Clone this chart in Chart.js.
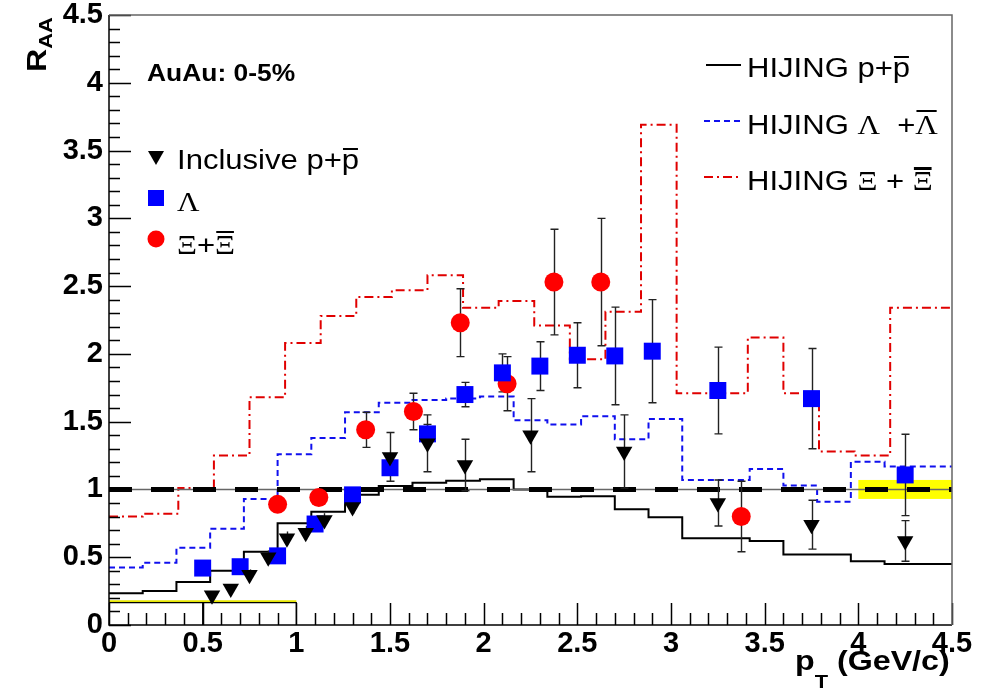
<!DOCTYPE html>
<html>
<head>
<meta charset="utf-8">
<script src="https://cdn.jsdelivr.net/npm/chart.js@4.4.1/dist/chart.umd.min.js"></script>
<style>
  html, body { margin: 0; padding: 0; background: #fff; }
  #wrap { width: 990px; height: 698px; }
</style>
</head>
<body>
<div id="wrap"><canvas id="raa" width="990" height="698"></canvas></div>
<script>
// HIJING curves: bin edges + bin contents
const hijingEdges = [0, 0.18, 0.36, 0.54, 0.72, 0.9, 1.08, 1.26, 1.44, 1.62, 1.8, 1.98, 2.16, 2.34, 2.52, 2.7, 2.88, 3.06, 3.24, 3.42, 3.6, 3.78, 3.96, 4.14, 4.32, 4.5];
const hijingPP = [0.234, 0.25, 0.317, 0.40, 0.54, 0.75, 0.836, 0.96, 1.026, 1.05, 1.065, 1.075, 1.0, 0.947, 0.95, 0.854, 0.795, 0.64, 0.64, 0.62, 0.52, 0.52, 0.47, 0.45, 0.45];
const hijingLambda = [0.425, 0.46, 0.57, 0.71, 0.93, 1.26, 1.38, 1.57, 1.64, 1.66, 1.67, 1.685, 1.51, 1.48, 1.54, 1.37, 1.52, 1.07, 1.07, 1.15, 1.03, 0.91, 1.205, 1.17, 1.17];
const xiEdges = [0, 0.18, 0.37, 0.56, 0.75, 0.94, 1.13, 1.32, 1.51, 1.70, 1.89, 2.08, 2.27, 2.46, 2.65, 2.84, 3.03, 3.22, 3.41, 3.60, 3.79, 3.98, 4.17, 4.5];
const hijingXi = [0.80, 0.82, 1.01, 1.25, 1.68, 2.08, 2.28, 2.42, 2.47, 2.58, 2.34, 2.39, 2.21, 1.96, 2.31, 3.69, 1.71, 1.71, 2.12, 1.71, 1.28, 1.25, 2.34];

// measured R_AA points
const ppX = [0.55, 0.65, 0.75, 0.85, 0.95, 1.05, 1.15, 1.30, 1.50, 1.70, 1.90, 2.25, 2.75, 3.25, 3.75, 4.25];
const ppY = [0.22, 0.27, 0.37, 0.50, 0.64, 0.68, 0.775, 0.87, 1.24, 1.34, 1.18, 1.40, 1.28, 0.90, 0.74, 0.62];
const ppErr = [0.02, 0.03, 0.04, 0.05, 0.05, 0.05, 0.05, 0.05, 0.18, 0.21, 0.19, 0.27, 0.27, 0.17, 0.18, 0.15];

const lamX = [0.50, 0.70, 0.90, 1.10, 1.30, 1.50, 1.70, 1.90, 2.10, 2.30, 2.50, 2.70, 2.90, 3.25, 3.75, 4.25];
const lamY = [0.42, 0.43, 0.51, 0.745, 0.96, 1.16, 1.41, 1.70, 1.86, 1.91, 1.99, 1.985, 2.02, 1.73, 1.67, 1.107];
const lamErr = [0.02, 0.02, 0.03, 0.04, 0.05, 0.06, 0.07, 0.09, 0.14, 0.18, 0.24, 0.36, 0.38, 0.32, 0.37, 0.30];

const xiX = [0.90, 1.12, 1.37, 1.625, 1.875, 2.125, 2.375, 2.625, 3.375];
const xiY = [0.89, 0.94, 1.44, 1.575, 2.23, 1.78, 2.53, 2.53, 0.80];
const xiErr = [0.03, 0.04, 0.13, 0.135, 0.25, 0.20, 0.39, 0.47, 0.26];

// normalisation uncertainty band and the low reference box
const bandX = [4.0, 4.5];
const bandY = [0.93, 1.07];
const lowBoxX = [0, 0.5, 1.0];
const lowBoxY = 0.165;

const SANS = "'Liberation Sans', Arial, sans-serif";
const SERIF = "'Liberation Serif', 'Times New Roman', serif";
const SX = 1.15; // text is drawn a bit wide

function toPoints(xs, ys) {
    return xs.map((x, i) => ({ x: x, y: ys[i] }));
}

function histPoints(edges, vals) {
    const pts = vals.map((v, i) => ({ x: edges[i], y: v }));
    pts.push({ x: edges[edges.length - 1], y: vals[vals.length - 1] });
    return pts;
}

function lowBoxPoints() {
    return [
        { x: lowBoxX[0], y: lowBoxY }, { x: lowBoxX[2], y: lowBoxY }, { x: lowBoxX[2], y: 0 },
        { x: 0.75, y: null },
        { x: lowBoxX[1], y: lowBoxY }, { x: lowBoxX[1], y: 0 }
    ];
}

// text with optional overline, stretched horizontally
function drawRich(ctx, x, y, parts, sx) {
    ctx.save();
    ctx.translate(x, y);
    ctx.scale(sx, 1);
    let cx = 0;
    for (const p of parts) {
        ctx.font = p.font;
        ctx.fillText(p.t, cx, p.dy || 0);
        const w = ctx.measureText(p.t).width;
        if (p.bar) {
            ctx.fillRect(cx + 1, -p.bar, w - 2, p.barW || 2);
        }
        cx += w;
    }
    ctx.restore();
}

const bandPlugin = {
    id: 'band',
    beforeDatasetsDraw(chart) {
        const { ctx, scales: { x, y } } = chart;
        ctx.save();
        ctx.fillStyle = '#ffff00';
        const x0 = x.getPixelForValue(bandX[0]), x1 = x.getPixelForValue(bandX[1]);
        const y0 = y.getPixelForValue(bandY[1]), y1 = y.getPixelForValue(bandY[0]);
        ctx.fillRect(x0, y0, x1 - x0, y1 - y0);
        ctx.restore();
    }
};

const errorBarPlugin = {
    id: 'errorBars',
    beforeDatasetDraw(chart, args) {
        if (args.index !== 2) return;
        const { ctx, scales: { x, y } } = chart;
        ctx.save();
        ctx.strokeStyle = '#222';
        ctx.lineWidth = 1.4;
        const sets = [[ppX, ppY, ppErr], [lamX, lamY, lamErr], [xiX, xiY, xiErr]];
        for (const [xs, ys, es] of sets) {
            xs.forEach((xv, i) => {
                const px = Math.round(x.getPixelForValue(xv)) + 0.5;
                const top = y.getPixelForValue(ys[i] + es[i]);
                const bot = y.getPixelForValue(ys[i] - es[i]);
                ctx.beginPath();
                ctx.moveTo(px, top);
                ctx.lineTo(px, bot);
                if (es[i] > 0.06) {
                    ctx.moveTo(px - 4, top);
                    ctx.lineTo(px + 4, top);
                    ctx.moveTo(px - 4, bot);
                    ctx.lineTo(px + 4, bot);
                }
                ctx.stroke();
            });
        }
        ctx.restore();
    }
};

// ROOT style frame with ticks pointing inward
const framePlugin = {
    id: 'frame',
    afterDatasetsDraw(chart) {
        const { ctx, chartArea: a, scales: { x, y } } = chart;
        ctx.save();
        ctx.lineWidth = 1.5;
        ctx.strokeStyle = '#000';
        ctx.beginPath();
        for (let k = 0; k <= 45; k++) {
            const px = Math.round(x.getPixelForValue(k / 10)) + 0.5;
            const len = k % 5 === 0 ? 22 : 12;
            ctx.moveTo(px, a.bottom);
            ctx.lineTo(px, a.bottom - len);
            const py = Math.round(y.getPixelForValue(k / 10)) + 0.5;
            const ylen = k % 5 === 0 ? 22 : 11;
            ctx.moveTo(a.left, py);
            ctx.lineTo(a.left + ylen, py);
        }
        ctx.stroke();
        ctx.beginPath();
        ctx.moveTo(a.left, a.top);
        ctx.lineTo(a.left, a.bottom);
        ctx.lineTo(a.right, a.bottom);
        ctx.stroke();
        ctx.strokeStyle = '#666';
        ctx.beginPath();
        ctx.moveTo(a.left, a.top);
        ctx.lineTo(a.right, a.top);
        ctx.lineTo(a.right, a.bottom);
        ctx.stroke();
        ctx.restore();
    }
};

const textPlugin = {
    id: 'texts',
    afterDraw(chart) {
        const ctx = chart.ctx;
        ctx.save();
        ctx.fillStyle = '#000';
        ctx.textBaseline = 'alphabetic';

        // axis titles
        ctx.save();
        ctx.translate(46, 72);
        ctx.rotate(-Math.PI / 2);
        drawRich(ctx, 0, 0, [
            { t: 'R', font: 'bold 28px ' + SANS },
            { t: 'AA', font: 'bold 19px ' + SANS, dy: 6 }
        ], SX);
        ctx.restore();
        drawRich(ctx, 795, 670, [
            { t: 'p', font: 'bold 28px ' + SANS },
            { t: 'T', font: 'bold 19px ' + SANS, dy: 18 },
            { t: ' (GeV/c)', font: 'bold 28px ' + SANS }
        ], SX);

        drawRich(ctx, 147, 81, [{ t: 'AuAu: 0-5%', font: 'bold 24px ' + SANS }], 1.1);

        // marker legend
        const sans = '27px ' + SANS, serif = '27px ' + SERIF;
        drawRich(ctx, 177, 169, [
            { t: 'Inclusive p+', font: sans },
            { t: 'p', font: sans, bar: 21 }
        ], SX);
        drawRich(ctx, 177, 211, [{ t: 'Λ', font: serif }], SX);
        drawRich(ctx, 177, 254, [
            { t: 'Ξ', font: serif },
            { t: '+', font: sans },
            { t: 'Ξ', font: serif, bar: 23 }
        ], SX);
        ctx.fillStyle = '#000';
        ctx.beginPath();
        ctx.moveTo(148, 151); ctx.lineTo(164, 151); ctx.lineTo(156, 165);
        ctx.closePath();
        ctx.fill();
        ctx.fillStyle = '#0000ff';
        ctx.fillRect(148, 190, 16, 16);
        ctx.fillStyle = '#ff0000';
        ctx.beginPath();
        ctx.arc(156, 239, 8.5, 0, Math.PI * 2);
        ctx.fill();

        // HIJING legend
        ctx.lineWidth = 2;
        ctx.strokeStyle = '#000';
        ctx.beginPath(); ctx.moveTo(706, 65); ctx.lineTo(741, 65); ctx.stroke();
        ctx.strokeStyle = '#1010ee';
        ctx.setLineDash([6, 4]);
        ctx.beginPath(); ctx.moveTo(704, 121); ctx.lineTo(741, 121); ctx.stroke();
        ctx.strokeStyle = '#e00000';
        ctx.setLineDash([9, 4, 2, 4]);
        ctx.beginPath(); ctx.moveTo(704, 177); ctx.lineTo(741, 177); ctx.stroke();
        ctx.setLineDash([]);
        ctx.fillStyle = '#000';
        drawRich(ctx, 747, 77, [
            { t: 'HIJING p+', font: sans },
            { t: 'p', font: sans, bar: 21 }
        ], SX);
        drawRich(ctx, 747, 134, [
            { t: 'HIJING ', font: sans },
            { t: 'Λ', font: serif },
            { t: '  +', font: sans },
            { t: 'Λ', font: serif, bar: 24 }
        ], SX);
        drawRich(ctx, 747, 190, [
            { t: 'HIJING ', font: sans },
            { t: 'Ξ', font: serif },
            { t: ' + ', font: sans },
            { t: 'Ξ', font: serif, bar: 23, barW: 3 }
        ], SX);
        ctx.restore();
    }
};

const tickFont = { family: SANS, size: 29, weight: 'bold', lineHeight: 1 };
const tickLabel = (v) => String(v);

new Chart(document.getElementById('raa'), {
    type: 'line',
    data: {
        datasets: [
            {
                data: toPoints(ppX, ppY), showLine: false,
                pointStyle: 'triangle', pointRotation: 180, pointRadius: 9.5,
                pointBackgroundColor: '#000', pointBorderColor: '#000', pointBorderWidth: 0
            },
            {
                data: toPoints(lamX, lamY), showLine: false,
                pointStyle: 'rect', pointRadius: 12,
                pointBackgroundColor: '#0000ff', pointBorderColor: '#0000ff', pointBorderWidth: 0
            },
            {
                data: toPoints(xiX, xiY), showLine: false,
                pointStyle: 'circle', pointRadius: 9.5,
                pointBackgroundColor: '#ff0000', pointBorderColor: '#ff0000', pointBorderWidth: 0
            },
            {
                data: [{ x: 0, y: 1 }, { x: 4.5, y: 1 }],
                borderColor: '#000', borderWidth: 5, borderDash: [23, 19], pointRadius: 0
            },
            {
                data: [{ x: 0, y: 1 }, { x: 4.5, y: 1 }],
                borderColor: '#666', borderWidth: 1.5, pointRadius: 0
            },
            {
                data: histPoints(hijingEdges, hijingPP), stepped: 'before',
                borderColor: '#000', borderWidth: 2, pointRadius: 0
            },
            {
                data: histPoints(hijingEdges, hijingLambda), stepped: 'before',
                borderColor: '#1010ee', borderWidth: 2, borderDash: [6, 4], pointRadius: 0
            },
            {
                data: histPoints(xiEdges, hijingXi), stepped: 'before',
                borderColor: '#e00000', borderWidth: 2, borderDash: [9, 4, 2, 4], pointRadius: 0
            },
            {
                data: lowBoxPoints(), spanGaps: false,
                borderColor: '#000', borderWidth: 1.2, pointRadius: 0
            },
            {
                data: [{ x: 0, y: lowBoxY + 0.01 }, { x: 1, y: lowBoxY + 0.01 }],
                borderColor: '#e6e600', borderWidth: 2, pointRadius: 0
            }
        ]
    },
    options: {
        responsive: false,
        animation: false,
        layout: { padding: { top: 15, right: 38, left: 0, bottom: 0 } },
        plugins: { legend: { display: false }, tooltip: { enabled: false } },
        elements: { line: { tension: 0, fill: false } },
        scales: {
            x: {
                type: 'linear', min: 0, max: 4.5,
                grid: { display: false, drawTicks: false },
                border: { display: false },
                ticks: { stepSize: 0.5, autoSkip: false, maxRotation: 0, padding: 4, color: '#000', font: tickFont, callback: tickLabel },
                afterFit: (s) => { s.height = 73; }
            },
            y: {
                min: 0, max: 4.5,
                grid: { display: false, drawTicks: false },
                border: { display: false },
                ticks: { stepSize: 0.5, autoSkip: false, padding: 6, color: '#000', font: tickFont, callback: tickLabel },
                afterFit: (s) => { s.width = 109; s.paddingTop = 0; s.paddingBottom = 0; }
            }
        }
    },
    plugins: [bandPlugin, errorBarPlugin, framePlugin, textPlugin]
});
</script>
</body>
</html>
